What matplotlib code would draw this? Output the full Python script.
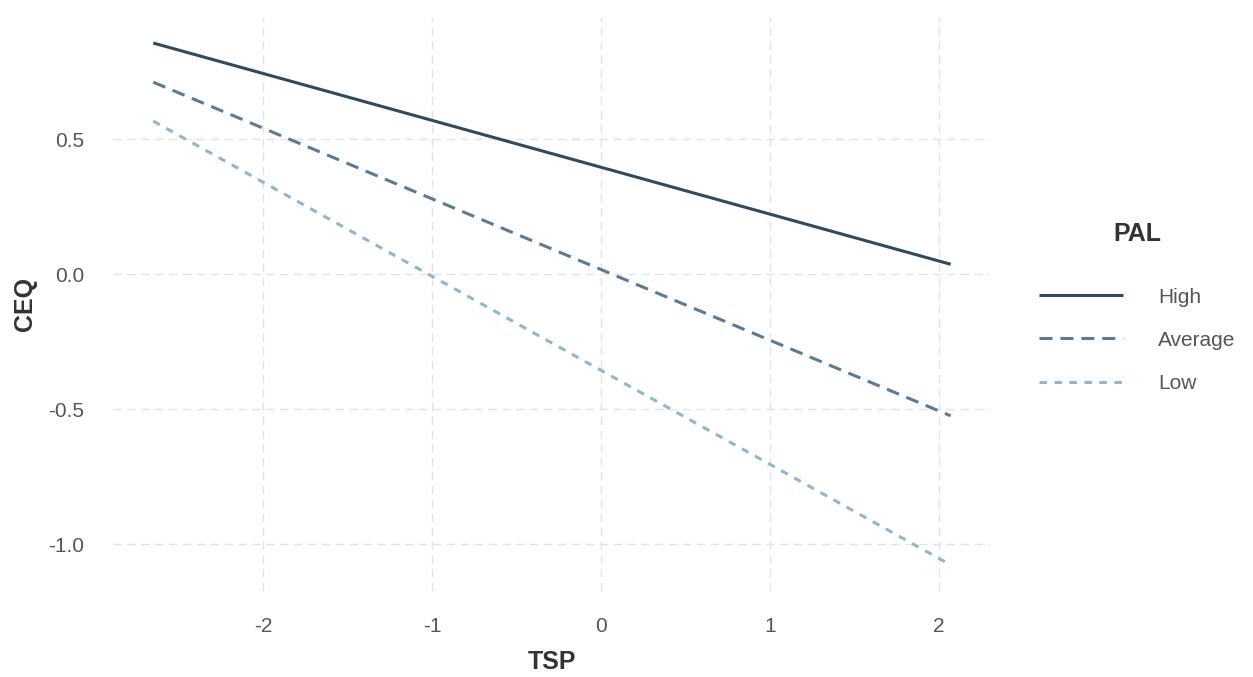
import matplotlib
matplotlib.use("Agg")
import matplotlib.pyplot as plt
import numpy as np

plt.rcParams['font.family'] = ['Liberation Sans', 'DejaVu Sans']

tsp_range = [-2.65, 2.07]
groups = ["High", "Average", "Low"]
ceq_high = [0.856, 0.037]
ceq_average = [0.711, -0.524]
ceq_low = [0.567, -1.076]
colors = ["#2e4a5f", "#5a7b93", "#91b6cb"]
styles = ["-", (0, (4.25, 2.6)), (0, (2.45, 2.45))]
x_ticks = [-2, -1, 0, 1, 2]
y_ticks = [-1.0, -0.5, 0.0, 0.5]

fig = plt.figure(figsize=(12.53, 6.77), dpi=100)
ax = fig.add_axes([0.0905, 0.127, 0.700, 0.848])

for name, vals, c, ls in zip(groups, [ceq_high, ceq_average, ceq_low], colors, styles):
    ax.plot(tsp_range, vals, color=c, linestyle=ls, linewidth=2.2, label=name,
            solid_capstyle='butt', dash_capstyle='butt')

xr = tsp_range[1] - tsp_range[0]
ax.set_xlim(tsp_range[0] - 0.05 * xr, tsp_range[1] + 0.05 * xr)
allv = ceq_high + ceq_average + ceq_low
yr = max(allv) - min(allv)
ax.set_ylim(min(allv) - 0.05 * yr, max(allv) + 0.05 * yr)

ax.set_xticks(x_ticks)
ax.set_xticklabels([str(t) for t in x_ticks])
ax.set_yticks(y_ticks)
ax.set_yticklabels([f"{t:.1f}" for t in y_ticks])
ax.grid(True, color="#e3e3e3", linestyle=(0, (6, 4)), linewidth=1.0)
ax.set_axisbelow(True)
for s in ax.spines.values():
    s.set_visible(False)
ax.tick_params(length=0, labelsize=15, labelcolor="#555555")
ax.tick_params(axis="x", pad=19)
ax.tick_params(axis="y", pad=21)

ax.set_xlabel("TSP", fontsize=18, fontweight="bold", color="#333333", labelpad=10)
ax.set_ylabel("CEQ", fontsize=18, fontweight="bold", color="#333333", labelpad=8)

leg = fig.legend(loc="center left", bbox_to_anchor=(0.814, 0.546), frameon=False,
                 title="PAL", fontsize=15, handlelength=4.04, handletextpad=1.68,
                 labelspacing=1.16)
leg.get_title().set_fontsize(18)
leg.get_title().set_fontweight("bold")
leg.get_title().set_color("#333333")
for t in leg.get_texts():
    t.set_color("#555555")
leg._legend_box.sep = 30

fig.savefig("out.png", dpi=100, facecolor="white")
